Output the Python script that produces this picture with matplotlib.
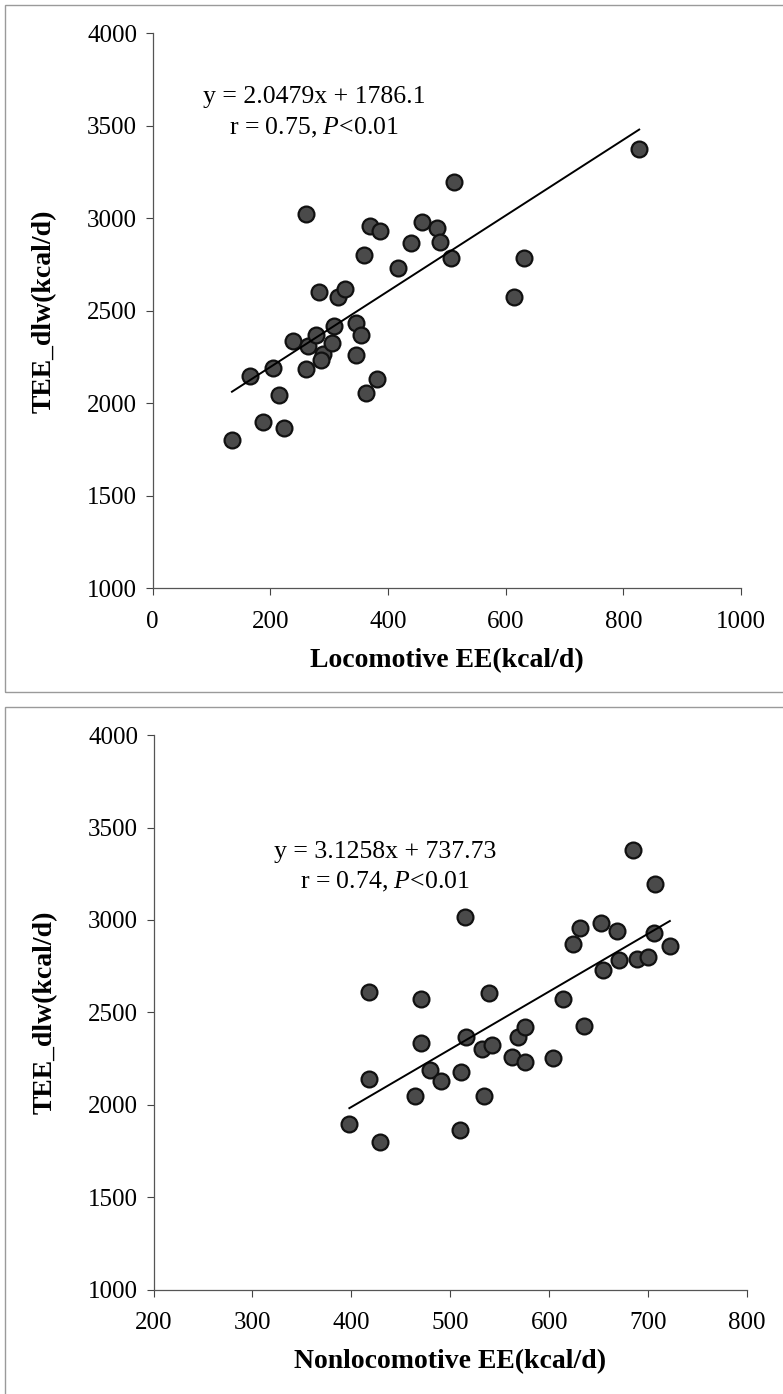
"""Two scatter panels: TEE vs locomotive / nonlocomotive EE with linear fits."""

import matplotlib
matplotlib.use("Agg")
import matplotlib.pyplot as plt
from matplotlib.patches import Rectangle

plt.rcParams["font.family"] = ["Liberation Serif", "DejaVu Serif"]
plt.rcParams["mathtext.fontset"] = "custom"
plt.rcParams["mathtext.rm"] = "Liberation Serif"
plt.rcParams["mathtext.it"] = "Liberation Serif:italic"

# top panel: locomotive EE vs TEE
loco_x = [135, 165, 188, 204, 215, 223, 238, 260, 261, 264, 277, 283, 290, 286,
          305, 308, 315, 327, 345, 345, 354, 360, 362, 369, 381, 386, 417, 440,
          458, 484, 489, 508, 512, 614, 631, 827]
loco_y = [1800, 2146, 1899, 2193, 2047, 1869, 2337, 3022, 2185, 2308, 2371, 2604,
          2265, 2236, 2328, 2418, 2573, 2620, 2436, 2263, 2371, 2804, 2054, 2957,
          2131, 2933, 2733, 2866, 2980, 2946, 2874, 2788, 3196, 2575, 2787, 3377]
loco_fit = (2.0479, 1786.1)
loco_text = ["y = 2.0479x + 1786.1", "r = 0.75, $P$<0.01"]

# bottom panel: nonlocomotive EE vs TEE
nonloco_x = [515, 418, 470, 539, 516, 470, 532, 542, 568, 576, 562, 576, 480, 491,
             511, 418, 464, 534, 398, 429, 510, 685, 707, 631, 652, 669, 624, 706,
             722, 671, 689, 700, 654, 614, 635, 604]
nonloco_y = [3016, 2612, 2572, 2603, 2367, 2333, 2302, 2325, 2365, 2419, 2257, 2232,
             2188, 2130, 2179, 2141, 2048, 2049, 1898, 1797, 1864, 3379, 3193, 2955,
             2982, 2940, 2868, 2928, 2859, 2782, 2787, 2798, 2729, 2572, 2426, 2253]
nonloco_fit = (3.1258, 737.73)
nonloco_text = ["y = 3.1258x + 737.73", "r = 0.74, $P$<0.01"]

Y_TICKS = [1000, 1500, 2000, 2500, 3000, 3500, 4000]
W, H = 783, 1394


def px_axes(fig, left, top, right, bottom):
    return fig.add_axes([left / W, 1 - bottom / H, (right - left) / W, (bottom - top) / H])


def draw_panel(ax, xs, ys, fit, text, xlim, xticks, xlabel, text_x, text_y):
    ax.scatter(xs, ys, s=130, facecolor="#4a4a4a", edgecolor="#111111",
               linewidths=1.6, zorder=2)
    slope, icpt = fit
    x0, x1 = min(xs), max(xs)
    ax.plot([x0, x1], [slope * x0 + icpt, slope * x1 + icpt], color="black",
            lw=1.4, zorder=3)
    ax.set_xlim(*xlim)
    ax.set_ylim(1000, 4000)
    ax.set_xticks(xticks)
    ax.set_yticks(Y_TICKS)
    ax.tick_params(axis="both", labelsize=18, direction="out", length=5,
                   width=0.8, color="#444444")
    ax.tick_params(axis="x", pad=11)
    ax.tick_params(axis="y", pad=6)
    for side in ("top", "right"):
        ax.spines[side].set_visible(False)
    for side in ("left", "bottom"):
        ax.spines[side].set_color("#555555")
        ax.spines[side].set_linewidth(0.9)
    ax.set_xlabel(xlabel, fontsize=20, fontweight="bold", labelpad=11)
    ax.set_ylabel("TEE_dlw(kcal/d)", fontsize=20, fontweight="bold", labelpad=22)
    ax.text(text_x, text_y[0], text[0], fontsize=18.5, ha="center", va="center")
    ax.text(text_x, text_y[1], text[1], fontsize=18.5, ha="center", va="center")


fig = plt.figure(figsize=(W / 100, H / 100), dpi=100)

# scanned page frames
for top, bottom in ((5, 692), (707, 1400)):
    fig.patches.append(Rectangle((5 / W, 1 - bottom / H), 1.2, (bottom - top) / H,
                                 transform=fig.transFigure, fill=False,
                                 edgecolor="#9a9a9a", lw=1.0))

ax1 = px_axes(fig, 152.5, 33.3, 741, 588.3)
draw_panel(ax1, loco_x, loco_y, loco_fit, loco_text, (0, 1000),
           [0, 200, 400, 600, 800, 1000], "Locomotive EE(kcal/d)",
           275, (3654, 3486))

ax2 = px_axes(fig, 153.5, 735.2, 747, 1289.6)
draw_panel(ax2, nonloco_x, nonloco_y, nonloco_fit, nonloco_text, (200, 800),
           [200, 300, 400, 500, 600, 700, 800], "Nonlocomotive EE(kcal/d)",
           434, (3368, 3206))

fig.savefig("out.png", dpi=100)
